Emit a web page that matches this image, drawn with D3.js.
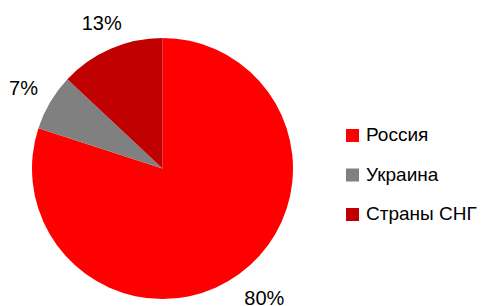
<!DOCTYPE html>
<html>
<head>
<meta charset="utf-8">
<script src="https://cdn.jsdelivr.net/npm/d3@7"></script>
<style>
  body { margin: 0; background: #fff; }
  svg { display: block; font-family: "Liberation Sans", Arial, sans-serif; }
</style>
</head>
<body>
<div id="chart"></div>
<script>
// Data
const categories = ['Россия', 'Украина', 'Страны СНГ'];
const shares = [80, 7, 13];
const sliceColors = ['#FF0000', '#808080', '#C00000'];

const width = 491, height = 306;
const cx = 162.5, cy = 168.5, radius = 130.5;

// small nudges so the outside labels sit where the original placed them
const labelNudge = [[9, 2], [-3, 0], [2, 0]];

const svg = d3.select('#chart').append('svg')
    .attr('width', width)
    .attr('height', height);

const data = categories.map((c, i) => ({ name: c, value: shares[i], color: sliceColors[i] }));

const pie = d3.pie()
    .value(d => d.value)
    .sort(null);

const arcs = pie(data);

const arc = d3.arc()
    .innerRadius(0)
    .outerRadius(radius);

const labelArc = d3.arc()
    .innerRadius(158)
    .outerRadius(158);

const g = svg.append('g')
    .attr('transform', `translate(${cx},${cy})`);

g.selectAll('.slice')
    .data(arcs)
    .join('path')
    .attr('class', 'slice')
    .attr('d', arc)
    .attr('fill', d => d.data.color);

// Percent labels outside the pie
g.selectAll('.pct')
    .data(arcs)
    .join('text')
    .attr('class', 'pct')
    .attr('transform', (d, i) => {
        const [x, y] = labelArc.centroid(d);
        return `translate(${x + labelNudge[i][0]},${y + labelNudge[i][1]})`;
    })
    .attr('text-anchor', 'middle')
    .attr('dy', '0.35em')
    .style('font-size', '20px')
    .style('fill', '#000')
    .text(d => d.data.value + '%');

// Legend
const legend = svg.append('g')
    .attr('transform', 'translate(346, 129)');

const item = legend.selectAll('.item')
    .data(data)
    .join('g')
    .attr('class', 'item')
    .attr('transform', (d, i) => `translate(0, ${i * 39.5})`);

item.append('rect')
    .attr('width', 13)
    .attr('height', 13)
    .attr('fill', d => d.color);

item.append('text')
    .attr('x', 20)
    .attr('y', 12)
    .style('font-size', '19px')
    .style('fill', '#000')
    .text(d => d.name);
</script>
</body>
</html>
